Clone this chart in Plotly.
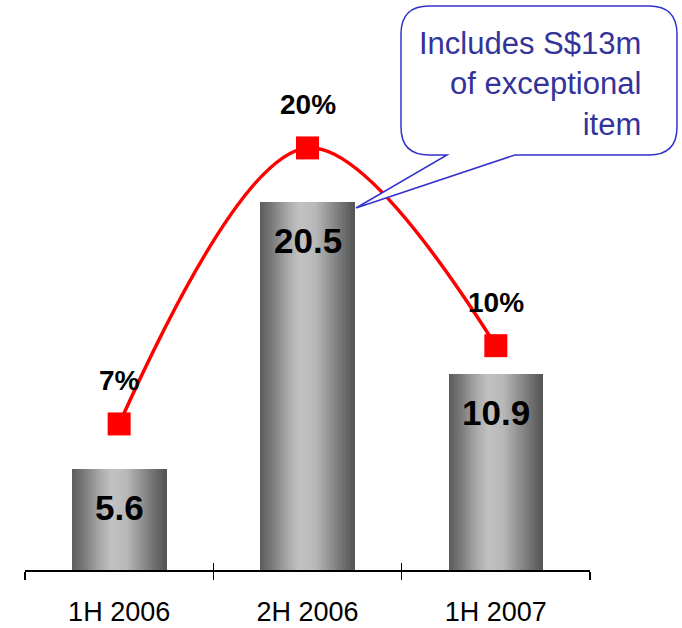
import plotly.graph_objects as go

# ---- data ----
categories = ["1H 2006", "2H 2006", "1H 2007"]
bar_values = [5.6, 20.5, 10.9]
margin_values = [6.6, 20.0, 10.4]
margin_labels = ["7%", "20%", "10%"]
callout_lines = ["Includes S$13m", "of exceptional", "item"]

# ---- geometry ----
W, H = 682, 628
ML, MR, MT, MB = 25, 92, 20, 58
PW, PH = W - ML - MR, H - MT - MB


def px(x):  # page pixel -> paper
    return (x - ML) / PW


def py(y):
    return (H - MB - y) / PH


FONT = "Liberation Sans, Arial, sans-serif"

fig = go.Figure()

# gradient bars built from narrow overlaid strips
stops = [(0.0, 92), (0.12, 120), (0.3, 170), (0.42, 194), (0.58, 184), (0.8, 130), (1.0, 82)]


def gray(t):
    for (t0, g0), (t1, g1) in zip(stops[:-1], stops[1:]):
        if t0 <= t <= t1:
            g = int(round(g0 + (g1 - g0) * (t - t0) / (t1 - t0)))
            return f"rgb({g},{g},{g})"
    return "rgb(128,128,128)"


N = 47
BW = 0.5
sw = BW / N
for k in range(N):
    t = (k + 0.5) / N
    fig.add_trace(go.Bar(
        x=categories, y=bar_values,
        width=sw * 1.2, offset=-BW / 2 + k * sw,
        marker=dict(color=gray(t), line=dict(width=0)),
        hoverinfo="skip", showlegend=False,
    ))

# helper trace for the inner tick marks axis
fig.add_trace(go.Scatter(
    x=categories, y=bar_values, xaxis="x2", mode="markers",
    marker=dict(opacity=0), hoverinfo="skip", showlegend=False,
))

# margin line
fig.add_trace(go.Scatter(
    x=categories, y=margin_values, yaxis="y2", mode="lines+markers",
    line=dict(color="#FF0000", width=3.5, shape="spline", smoothing=1.0),
    marker=dict(symbol="square", size=23, color="#FF0000"),
    hoverinfo="skip", showlegend=False,
))

annotations = []
for c, v in zip(categories, bar_values):
    annotations.append(dict(
        x=c, y=v, xref="x", yref="y", text=f"<b>{v}</b>", showarrow=False,
        yshift=-38, font=dict(family=FONT, size=35, color="#000000"),
    ))
for c, v, lab in zip(categories, margin_values, margin_labels):
    annotations.append(dict(
        x=c, y=v, xref="x", yref="y2", text=f"<b>{lab}</b>", showarrow=False,
        yshift=43, font=dict(family=FONT, size=28, color="#000000"),
    ))

annotations.append(dict(
    x=px(643), y=py(84), xref="paper", yref="paper",
    xanchor="right", yanchor="middle", align="right", showarrow=False,
    text="<br>".join(callout_lines),
    font=dict(family=FONT, size=31, color="#333399"),
))

# callout balloon
x0, x1, y0, y1, r = 401, 677, 6, 155, 28
tail_a, tail_b, tip = 447, 515, (356, 208)


def P(x, y):
    return f"{px(x):.5f},{py(y):.5f}"


path = (
    f"M {P(x0 + r, y0)} L {P(x1 - r, y0)} Q {P(x1, y0)} {P(x1, y0 + r)} "
    f"L {P(x1, y1 - r)} Q {P(x1, y1)} {P(x1 - r, y1)} "
    f"L {P(tail_b, y1)} L {P(*tip)} L {P(tail_a, y1)} "
    f"L {P(x0 + r, y1)} Q {P(x0, y1)} {P(x0, y1 - r)} "
    f"L {P(x0, y0 + r)} Q {P(x0, y0)} {P(x0 + r, y0)} Z"
)

fig.update_layout(
    width=W, height=H,
    margin=dict(l=ML, r=MR, t=MT, b=MB, pad=0, autoexpand=False),
    paper_bgcolor="white", plot_bgcolor="white",
    barmode="overlay", bargap=0,
    showlegend=False,
    xaxis=dict(
        type="category", categoryorder="array", categoryarray=categories,
        range=[-0.5, 2.5], showline=True, linecolor="#000000", linewidth=1.5,
        ticks="outside", tickson="boundaries", ticklen=8, tickwidth=1.5,
        tickcolor="#000000", showgrid=False, zeroline=False, automargin=False,
        tickfont=dict(family=FONT, size=27, color="#000000"),
        ticklabelstandoff=17,
    ),
    xaxis2=dict(
        type="category", categoryorder="array", categoryarray=categories,
        range=[-0.5, 2.5], overlaying="x", anchor="y", side="bottom",
        showline=False, ticks="inside", tickson="boundaries", ticklen=7,
        tickwidth=1.5, tickcolor="#000000", showticklabels=False,
        showgrid=False, zeroline=False, automargin=False,
    ),
    yaxis=dict(range=[0, PH / 17.95], visible=False, showgrid=False,
               zeroline=False, automargin=False),
    yaxis2=dict(range=[-0.49, 26.21], overlaying="y", visible=False,
                showgrid=False, zeroline=False, automargin=False),
    annotations=annotations,
    shapes=[dict(type="path", xref="paper", yref="paper", path=path,
                 line=dict(color="#3333CC", width=1.5), fillcolor="white",
                 layer="above")],
)

fig.write_html(
    "out.html",
    config={"displayModeBar": False, "staticPlot": True},
    post_script="document.documentElement.style.margin='0';"
                "document.body.style.margin='0';"
                "document.documentElement.style.overflow='hidden';",
)
